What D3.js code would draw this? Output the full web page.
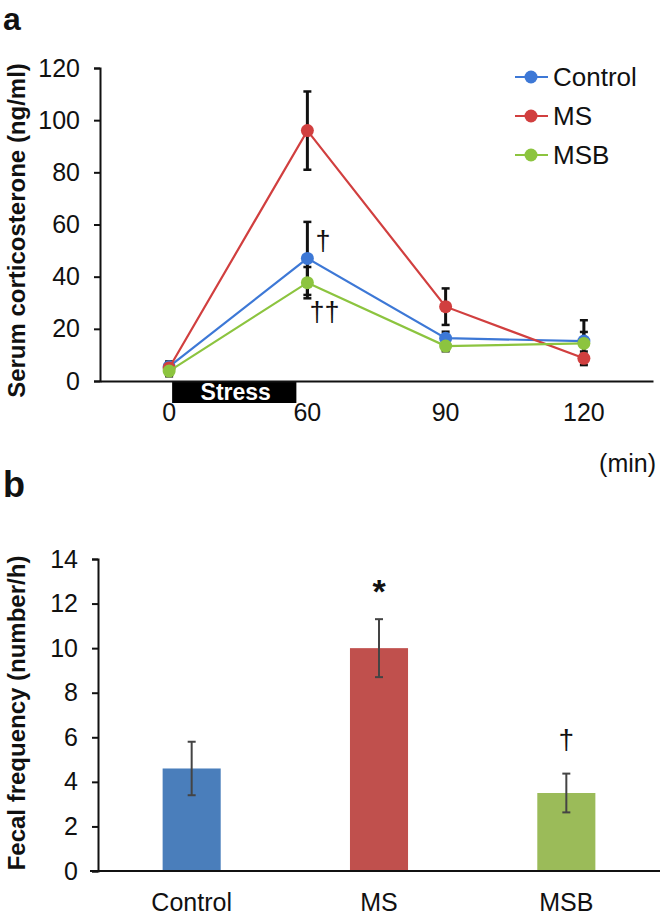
<!DOCTYPE html>
<html>
<head>
<meta charset="utf-8">
<script src="https://cdn.jsdelivr.net/npm/d3@7"></script>
<style>
  html, body { margin: 0; padding: 0; background: #fff; }
  svg { display: block; font-family: "Liberation Sans", Arial, sans-serif; }
</style>
</head>
<body>
<svg id="chart" width="666" height="919"></svg>
<script>
// ---------- Panel a data ----------
const times = ["0", "60", "90", "120"];
const seriesNames = ["Control", "MS", "MSB"];
const controlValues = [5.5, 47, 16.4, 15.3];
const controlErr    = [2, 14, 2.5, 8];
const msValues      = [5, 96, 28.5, 8.7];
const msErr         = [2, 15, 7, 2.6];
const msbValues     = [3.8, 37.7, 13.4, 14.4];
const msbErr        = [2, 6, 2, 4.4];
const yTicksA = [0, 20, 40, 60, 80, 100, 120];

// ---------- Panel b data ----------
const groups = ["Control", "MS", "MSB"];
const fecalValues = [4.6, 10, 3.5];
const fecalErr    = [1.2, 1.3, 0.87];
const fecalMarks  = ["", "*", "\u2020"];
const yTicksB = [0, 2, 4, 6, 8, 10, 12, 14];

const lineColors = ["#3d78d6", "#d13f3f", "#8cc43f"];
const barColors  = ["#4a7ebb", "#c0504d", "#9bbb59"];

const svg = d3.select("#chart");

// ================= Panel a =================
const a = { left: 100, right: 653, top: 68, bottom: 381 };
const xA = d3.scaleBand().domain(times).range([a.left, a.right]).padding(0);
const yA = d3.scaleLinear().domain([0, 120]).range([a.bottom, a.top]);
const cx = t => xA(t) + xA.bandwidth() / 2;

const gA = svg.append("g");

// y axis
const yAxisA = gA.append("g").attr("transform", `translate(${a.left},0)`)
  .call(d3.axisLeft(yA).tickValues(yTicksA).tickSize(6).tickPadding(14));
yAxisA.select(".domain").attr("stroke", "#111").attr("stroke-width", 2);
yAxisA.selectAll(".tick line").attr("stroke", "#111").attr("stroke-width", 2);
yAxisA.selectAll("text").attr("font-size", 25).attr("fill", "#111");

// Stress bar
gA.append("rect")
  .attr("x", cx("0") + 3)
  .attr("y", a.bottom + 1)
  .attr("width", cx("60") - cx("0") - 14)
  .attr("height", 21)
  .attr("fill", "#000");
gA.append("text")
  .attr("x", (cx("0") + cx("60") - 11) / 2 + 3)
  .attr("y", a.bottom + 19)
  .attr("text-anchor", "middle")
  .attr("font-size", 23).attr("font-weight", "bold").attr("fill", "#fff")
  .text("Stress");

// x axis
const xAxisA = gA.append("g").attr("transform", `translate(0,${a.bottom})`)
  .call(d3.axisBottom(xA).tickSize(0).tickPadding(22).tickSizeOuter(0));
xAxisA.select(".domain").attr("stroke", "#111").attr("stroke-width", 2);
xAxisA.selectAll("text").attr("font-size", 25).attr("fill", "#111");

gA.append("text").attr("x", 656).attr("y", 472).attr("text-anchor", "end")
  .attr("font-size", 25).attr("fill", "#111").text("(min)");

// y label
gA.append("text")
  .attr("transform", `translate(25,${(a.top + a.bottom) / 2 + 6}) rotate(-90)`)
  .attr("text-anchor", "middle")
  .attr("font-size", 24).attr("font-weight", "bold").attr("fill", "#111")
  .text("Serum corticosterone (ng/ml)");

// panel label
svg.append("text").attr("x", 3).attr("y", 30).attr("font-size", 32)
  .attr("font-weight", "bold").attr("fill", "#111").text("a");

const seriesA = [
  { name: seriesNames[0], values: controlValues, err: controlErr, color: lineColors[0] },
  { name: seriesNames[1], values: msValues, err: msErr, color: lineColors[1] },
  { name: seriesNames[2], values: msbValues, err: msbErr, color: lineColors[2] }
];

// error bars
seriesA.forEach(s => {
  const eg = gA.append("g").attr("stroke", "#111").attr("stroke-width", 3);
  times.forEach((t, i) => {
    const x = cx(t), y1 = yA(s.values[i] + s.err[i]), y2 = yA(s.values[i] - s.err[i]);
    eg.append("line").attr("x1", x).attr("x2", x).attr("y1", y1).attr("y2", y2);
    eg.append("line").attr("x1", x - 4).attr("x2", x + 4).attr("y1", y1).attr("y2", y1).attr("stroke-width", 2.5);
    eg.append("line").attr("x1", x - 4).attr("x2", x + 4).attr("y1", y2).attr("y2", y2).attr("stroke-width", 2.5);
  });
});

// lines and markers
const lineGen = d3.line().x((d, i) => cx(times[i])).y(d => yA(d));
seriesA.forEach(s => {
  gA.append("path").datum(s.values).attr("d", lineGen)
    .attr("fill", "none").attr("stroke", s.color).attr("stroke-width", 2.2);
  gA.selectAll(null).data(s.values).enter().append("circle")
    .attr("cx", (d, i) => cx(times[i])).attr("cy", d => yA(d))
    .attr("r", 6.5).attr("fill", s.color);
});

// significance marks
gA.append("text").attr("x", cx("60") + 8).attr("y", yA(47) - 8)
  .attr("font-size", 27).attr("fill", "#111").text("\u2020");
gA.append("text").attr("x", cx("60") + 2).attr("y", yA(37.7) + 38)
  .attr("font-size", 27).attr("fill", "#111").text("\u2020\u2020");

// legend
const leg = gA.append("g");
seriesA.forEach((s, i) => {
  const y = 77 + i * 39;
  leg.append("line").attr("x1", 515).attr("x2", 548).attr("y1", y).attr("y2", y)
    .attr("stroke", s.color).attr("stroke-width", 2.2);
  leg.append("circle").attr("cx", 531).attr("cy", y).attr("r", 6.5).attr("fill", s.color);
  leg.append("text").attr("x", 553).attr("y", y + 9).attr("font-size", 26)
    .attr("fill", "#111").text(s.name);
});

// ================= Panel b =================
const b = { left: 98, right: 660, top: 559, bottom: 871 };
const xB = d3.scaleBand().domain(groups).range([b.left, b.right])
  .paddingInner(0.69).paddingOuter(0.345);
const yB = d3.scaleLinear().domain([0, 14]).range([b.bottom, b.top]);

const gB = svg.append("g");

gB.selectAll(null).data(fecalValues).enter().append("rect")
  .attr("x", (d, i) => xB(groups[i]))
  .attr("y", d => yB(d))
  .attr("width", xB.bandwidth())
  .attr("height", d => yB(0) - yB(d))
  .attr("fill", (d, i) => barColors[i]);

// error bars
fecalValues.forEach((v, i) => {
  const x = xB(groups[i]) + xB.bandwidth() / 2;
  const y1 = yB(v + fecalErr[i]), y2 = yB(v - fecalErr[i]);
  const eg = gB.append("g").attr("stroke", "#444").attr("stroke-width", 2);
  eg.append("line").attr("x1", x).attr("x2", x).attr("y1", y1).attr("y2", y2);
  eg.append("line").attr("x1", x - 4).attr("x2", x + 4).attr("y1", y1).attr("y2", y1);
  eg.append("line").attr("x1", x - 4).attr("x2", x + 4).attr("y1", y2).attr("y2", y2);
  if (fecalMarks[i] === "*") {
    gB.append("text").attr("x", x).attr("y", y1 - 16)
      .attr("text-anchor", "middle").attr("font-size", 34).attr("font-weight", "bold")
      .attr("fill", "#111").text(fecalMarks[i]);
  } else if (fecalMarks[i]) {
    gB.append("text").attr("x", x).attr("y", y1 - 25)
      .attr("text-anchor", "middle").attr("font-size", 28).attr("fill", "#111")
      .text(fecalMarks[i]);
  }
});

const yAxisB = gB.append("g").attr("transform", `translate(${b.left},0)`)
  .call(d3.axisLeft(yB).tickValues(yTicksB).tickSize(6).tickPadding(14));
yAxisB.select(".domain").attr("stroke", "#111").attr("stroke-width", 2);
yAxisB.selectAll(".tick line").attr("stroke", "#111").attr("stroke-width", 2);
yAxisB.selectAll("text").attr("font-size", 25).attr("fill", "#111");

const xAxisB = gB.append("g").attr("transform", `translate(0,${b.bottom})`)
  .call(d3.axisBottom(xB).tickSize(0).tickPadding(22).tickSizeOuter(0));
xAxisB.select(".domain").attr("stroke", "#111").attr("stroke-width", 2)
  .attr("d", `M${b.left - 8},0H${b.right}`);
xAxisB.selectAll("text").attr("font-size", 25).attr("fill", "#111");

gB.append("text")
  .attr("transform", `translate(25,${(b.top + b.bottom) / 2 - 2}) rotate(-90)`)
  .attr("text-anchor", "middle")
  .attr("font-size", 24).attr("font-weight", "bold").attr("fill", "#111")
  .text("Fecal frequency (number/h)");

svg.append("text").attr("x", 3).attr("y", 497).attr("font-size", 36)
  .attr("font-weight", "bold").attr("fill", "#111").text("b");
</script>
</body>
</html>
